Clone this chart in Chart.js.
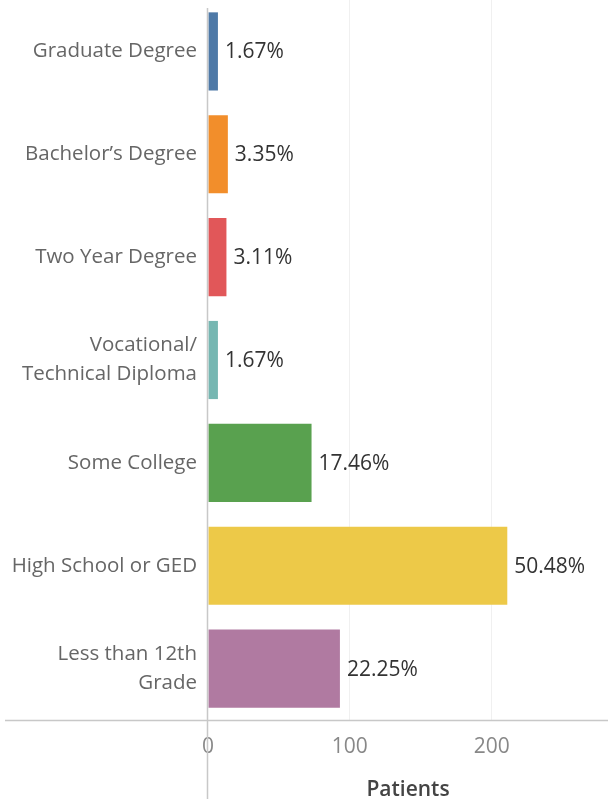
<!DOCTYPE html>
<html>
<head>
<meta charset="utf-8">
<script src="https://cdn.jsdelivr.net/npm/chart.js@4"></script>
<style>
  html, body { margin: 0; padding: 0; background: #fff; }
  #wrap { width: 608px; height: 799px; }
</style>
</head>
<body>
<div id="wrap"><canvas id="chart-edu" width="608" height="799"></canvas></div>
<script>
// education level -> patient counts
const categories = [
  'Graduate Degree',
  'Bachelor\u2019s Degree',
  'Two Year Degree',
  ['Vocational/', 'Technical Diploma'],
  'Some College',
  'High School or GED',
  ['Less than 12th', 'Grade'],
];
const patients = [7, 14, 13, 7, 73, 211, 93];
const xTicks = [0, 100, 200];
const barColors = ['#4e79a7', '#f28e2b', '#e15759', '#76b7b2', '#59a14f', '#edc948', '#b07aa1'];

const FONT = "'Open Sans', 'DejaVu Sans', sans-serif";
const total = patients.reduce((a, b) => a + b, 0);

// percent labels at the end of each bar
const barLabels = {
  id: 'barLabels',
  afterDatasetsDraw(chart) {
    const ctx = chart.ctx;
    const meta = chart.getDatasetMeta(0);
    ctx.save();
    ctx.font = '21px ' + FONT;
    ctx.fillStyle = '#333';
    ctx.textAlign = 'left';
    ctx.textBaseline = 'middle';
    meta.data.forEach((bar, i) => {
      const pct = (patients[i] / total * 100).toFixed(2) + '%';
      ctx.fillText(pct, bar.x + 7, bar.y + 1);
    });
    ctx.restore();
  },
};

// tableau-style axis rules that run past the plot area
const axisRules = {
  id: 'axisRules',
  afterDraw(chart) {
    const ctx = chart.ctx;
    const x0 = Math.round(chart.scales.x.getPixelForValue(0)) - 0.5;
    const yb = Math.round(chart.chartArea.bottom) + 0.5;
    ctx.save();
    ctx.strokeStyle = '#c8c8c8';
    ctx.lineWidth = 1.5;
    ctx.beginPath();
    ctx.moveTo(5, yb);
    ctx.lineTo(chart.width, yb);
    ctx.moveTo(x0, 8);
    ctx.lineTo(x0, chart.height);
    ctx.stroke();
    ctx.restore();
  },
};

new Chart(document.getElementById('chart-edu').getContext('2d'), {
  type: 'bar',
  data: {
    labels: categories,
    datasets: [{
      data: patients,
      backgroundColor: barColors,
      borderWidth: 0,
      categoryPercentage: 1,
      barPercentage: 0.76,
    }],
  },
  options: {
    indexAxis: 'y',
    responsive: false,
    animation: false,
    layout: { padding: 0 },
    plugins: { legend: { display: false }, tooltip: { enabled: false } },
    scales: {
      x: {
        min: 0,
        max: 282,
        afterBuildTicks: (s) => { s.ticks = xTicks.map(v => ({ value: v })); },
        afterFit: (s) => { s.height = 79; s.paddingLeft = 0; s.paddingRight = 0; },
        border: { display: false },
        grid: {
          color: (c) => (c.tick && c.tick.value === 0 ? 'transparent' : '#f0f0f0'),
          drawTicks: false,
        },
        ticks: { padding: 14, color: '#888', font: { family: FONT, size: 21 } },
        title: {
          display: true,
          text: 'Patients',
          color: '#444',
          font: { family: FONT, size: 21, weight: '600' },
          padding: { top: 0, bottom: -4 },
        },
      },
      y: {
        afterFit: (s) => { s.width = 208; s.paddingTop = 0; s.paddingBottom = 0; },
        border: { display: false },
        grid: { display: false, drawTicks: false },
        ticks: {
          padding: 11,
          color: '#666',
          font: { family: FONT, size: 20.5, lineHeight: 1.4 },
        },
      },
    },
  },
  plugins: [barLabels, axisRules],
});
</script>
</body>
</html>
